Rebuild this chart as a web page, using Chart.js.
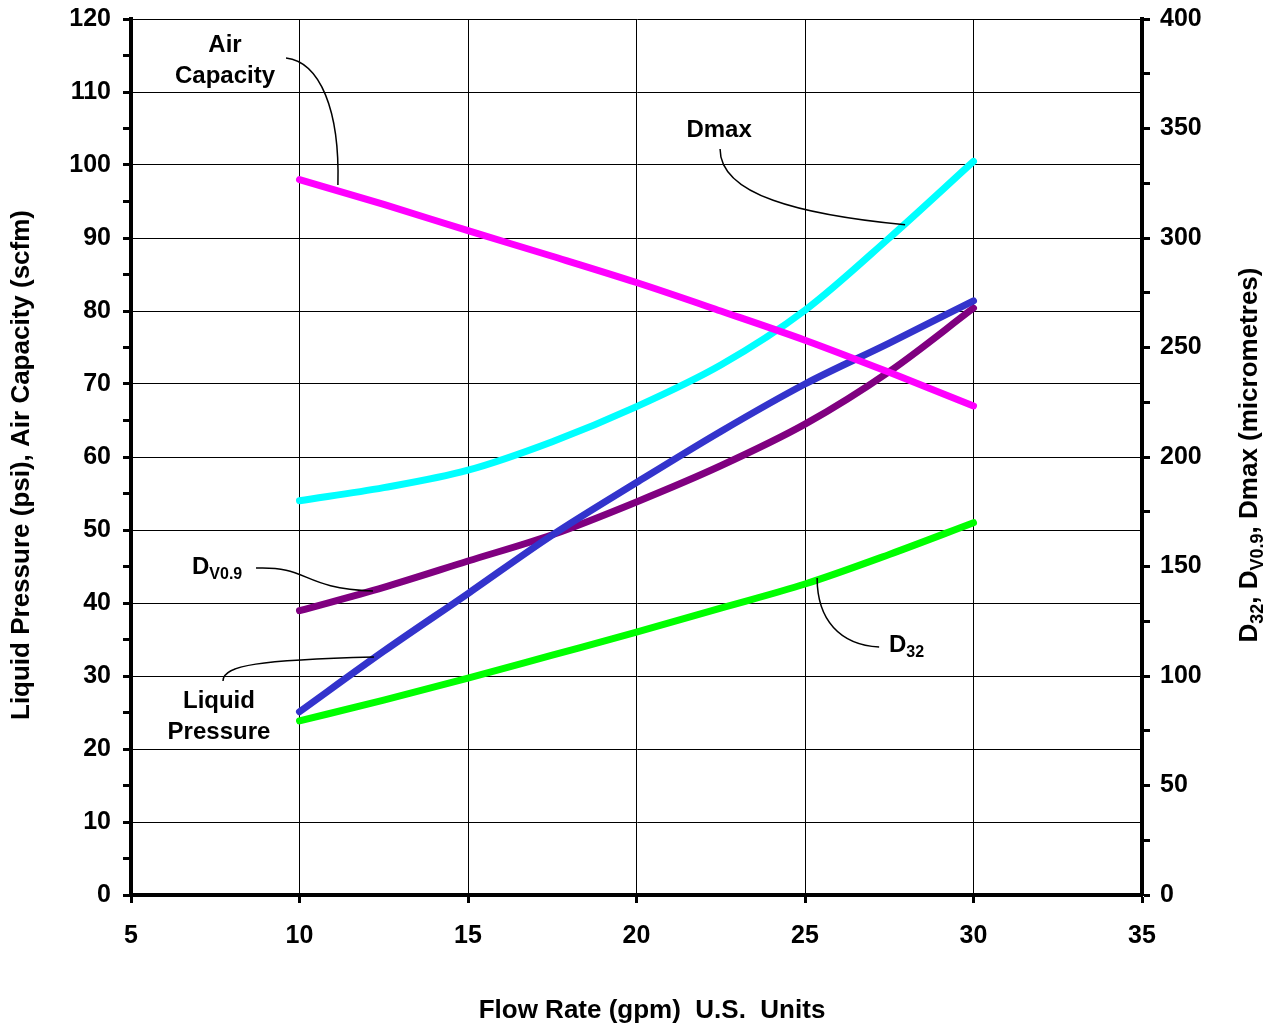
<!DOCTYPE html>
<html>
<head>
<meta charset="utf-8">
<script src="https://cdn.jsdelivr.net/npm/chart.js@4.4.1/dist/chart.umd.min.js"></script>
<style>
  html, body { margin: 0; padding: 0; background: #fff; }
  #wrap { width: 1275px; height: 1027px; }
</style>
</head>
<body>
<div id="wrap"><canvas id="chart" width="1275" height="1027"></canvas></div>
<script>
// flow rate (gpm) at which each curve was read
const flowRate = [10, 12.5, 15, 17.5, 20, 22.5, 25, 27.5, 30];

// left axis series
const liquidPressure = [25.1, 33.4, 41.3, 49.3, 56.5, 63.5, 70.0, 75.6, 81.4];
const airCapacity    = [98.0, 94.6, 91.0, 87.5, 83.9, 80.0, 76.0, 71.6, 67.0];

// right axis series (micrometres)
const dmax  = [180, 186, 194, 207, 223, 242, 267, 300, 335];
const dv09  = [129.8, 140.5, 152.5, 164.5, 179.5, 196, 215, 239, 268];
const d32   = [79.5, 89, 99, 109.5, 120, 131, 142, 155.5, 170];

const FONT = '"Liberation Sans", Arial, sans-serif';

function pts(ys) { return flowRate.map((x, i) => ({ x: x, y: ys[i] })); }

function series(label, ys, color, axis) {
  return {
    label: label, data: pts(ys), yAxisID: axis,
    borderColor: color, backgroundColor: color,
    borderWidth: 7, pointRadius: 0, fill: false,
    cubicInterpolationMode: 'monotone', borderCapStyle: 'round'
  };
}

// callout labels, placed in data units (x: gpm, y: left axis)
const callouts = [
  { lines: ['Air', 'Capacity'], at: [7.79, 116.4], gap: 4.2,
    lead: [[9.60, 114.66], [10.61, 114.11], [11.20, 107.53], [11.14, 97.26]] },
  { lines: ['Dmax'], at: [22.45, 104.7],
    lead: [[22.48, 102.2], [22.48, 95.9], [24.85, 93.2], [27.97, 91.8]] },
  { lines: ['Liquid', 'Pressure'], at: [7.61, 26.58], gap: 4.25,
    lead: [[7.73, 29.32], [7.73, 31.51], [8.83, 32.19], [12.21, 32.60]] },
  { sub: ['D', 'V0.9'], at: [6.81, 44.9],
    lead: [[8.71, 44.79], [10.31, 45.07], [10.01, 42.05], [12.18, 41.64]] },
  { sub: ['D', '32'], at: [27.49, 34.2],
    lead: [[25.36, 43.42], [25.36, 37.67], [26.04, 34.25], [27.20, 33.97]] }
];

function drawSub(ctx, parts, x, y, size) {
  // parts: alternating normal / subscript text
  let cx = x;
  parts.forEach((p, i) => {
    const isSub = i % 2 === 1;
    ctx.font = 'bold ' + (isSub ? Math.round(size * 0.68) : size) + 'px ' + FONT;
    ctx.fillText(p, cx, y + (isSub ? size * 0.3 : 0));
    cx += ctx.measureText(p).width;
  });
  return cx - x;
}

function measureSub(ctx, parts, size) {
  let w = 0;
  parts.forEach((p, i) => {
    ctx.font = 'bold ' + (i % 2 ? Math.round(size * 0.68) : size) + 'px ' + FONT;
    w += ctx.measureText(p).width;
  });
  return w;
}

const extras = {
  id: 'extras',
  afterDatasetsDraw(chart) {
    const ctx = chart.ctx;
    const sx = chart.scales.x, sy = chart.scales.y;
    const P = (d) => [sx.getPixelForValue(d[0]), sy.getPixelForValue(d[1])];
    ctx.save();
    ctx.fillStyle = '#000';
    ctx.strokeStyle = '#000';
    ctx.lineWidth = 1.5;
    callouts.forEach(c => {
      const l = c.lead.map(P);
      ctx.beginPath();
      ctx.moveTo(l[0][0], l[0][1]);
      ctx.bezierCurveTo(l[1][0], l[1][1], l[2][0], l[2][1], l[3][0], l[3][1]);
      ctx.stroke();
      const a = P(c.at);
      ctx.textBaseline = 'middle';
      if (c.lines) {
        ctx.textAlign = 'center';
        ctx.font = 'bold 24px ' + FONT;
        c.lines.forEach((t, i) => {
          const yy = sy.getPixelForValue(c.at[1] - i * (c.gap || 0));
          ctx.fillText(t, a[0], yy);
        });
      } else {
        ctx.textAlign = 'left';
        drawSub(ctx, c.sub, a[0], a[1], 24);
      }
    });

    // axis titles
    ctx.textAlign = 'center';
    ctx.textBaseline = 'middle';
    ctx.font = 'bold 26px ' + FONT;
    ctx.fillText('Flow Rate (gpm)  U.S.  Units', 652, 1011);

    ctx.save();
    ctx.translate(22, 465);
    ctx.rotate(-Math.PI / 2);
    ctx.fillText('Liquid Pressure (psi), Air Capacity (scfm)', 0, 0);
    ctx.restore();

    const rparts = ['D', '32', ', D', 'V0.9', ', Dmax (micrometres)'];
    ctx.save();
    ctx.translate(1250, 455);
    ctx.rotate(-Math.PI / 2);
    ctx.textAlign = 'left';
    const w = measureSub(ctx, rparts, 26);
    drawSub(ctx, rparts, -w / 2, 0, 26);
    ctx.restore();
    ctx.restore();
  }
};

const tickFont = { family: FONT, size: 25, weight: 'bold' };

function fitY(width) {
  return (s) => { s.width = width; s.paddingTop = 0; s.paddingBottom = 0; };
}

new Chart(document.getElementById('chart'), {
  type: 'line',
  data: {
    datasets: [
      series('Air Capacity', airCapacity, '#FF00FF', 'y'),
      series('Dmax', dmax, '#00FFFF', 'y1'),
      series('Liquid Pressure', liquidPressure, '#3333CC', 'y'),
      series('DV0.9', dv09, '#800080', 'y1'),
      series('D32', d32, '#00FF00', 'y1')
    ]
  },
  options: {
    responsive: false,
    animation: false,
    layout: { padding: { top: 19, left: 0, right: 0, bottom: 0 } },
    plugins: { legend: { display: false }, tooltip: { enabled: false } },
    scales: {
      x: {
        type: 'linear', min: 5, max: 35,
        ticks: { stepSize: 5, color: '#000', font: tickFont, padding: 18 },
        grid: {
          color: (c) => (c.tick && c.tick.value > 5 && c.tick.value < 35) ? '#000' : 'rgba(0,0,0,0)',
          lineWidth: 1, tickLength: 8, tickColor: '#000', tickWidth: 3
        },
        border: { display: true, color: '#000', width: 4 },
        afterFit: (s) => { s.height = 132; s.paddingLeft = 0; s.paddingRight = 0; }
      },
      y: {
        position: 'left', min: 0, max: 120,
        ticks: {
          stepSize: 5, color: '#000', font: tickFont, padding: 12,
          callback: (v) => (v % 10 === 0 ? String(v) : '')
        },
        grid: {
          color: (c) => (c.tick && c.tick.value % 10 === 0 && c.tick.value > 0) ? '#000' : 'rgba(0,0,0,0)',
          lineWidth: 1, tickLength: 8, tickColor: '#000', tickWidth: 3
        },
        border: { display: true, color: '#000', width: 4 },
        afterFit: fitY(131)
      },
      y1: {
        position: 'right', min: 0, max: 400,
        ticks: {
          stepSize: 25, color: '#000', font: tickFont, padding: 10,
          callback: (v) => (v % 50 === 0 ? String(v) : '')
        },
        grid: { drawOnChartArea: false, tickLength: 8, tickColor: '#000', tickWidth: 3 },
        border: { display: true, color: '#000', width: 4 },
        afterFit: fitY(133)
      }
    }
  },
  plugins: [extras]
});
</script>
</body>
</html>
